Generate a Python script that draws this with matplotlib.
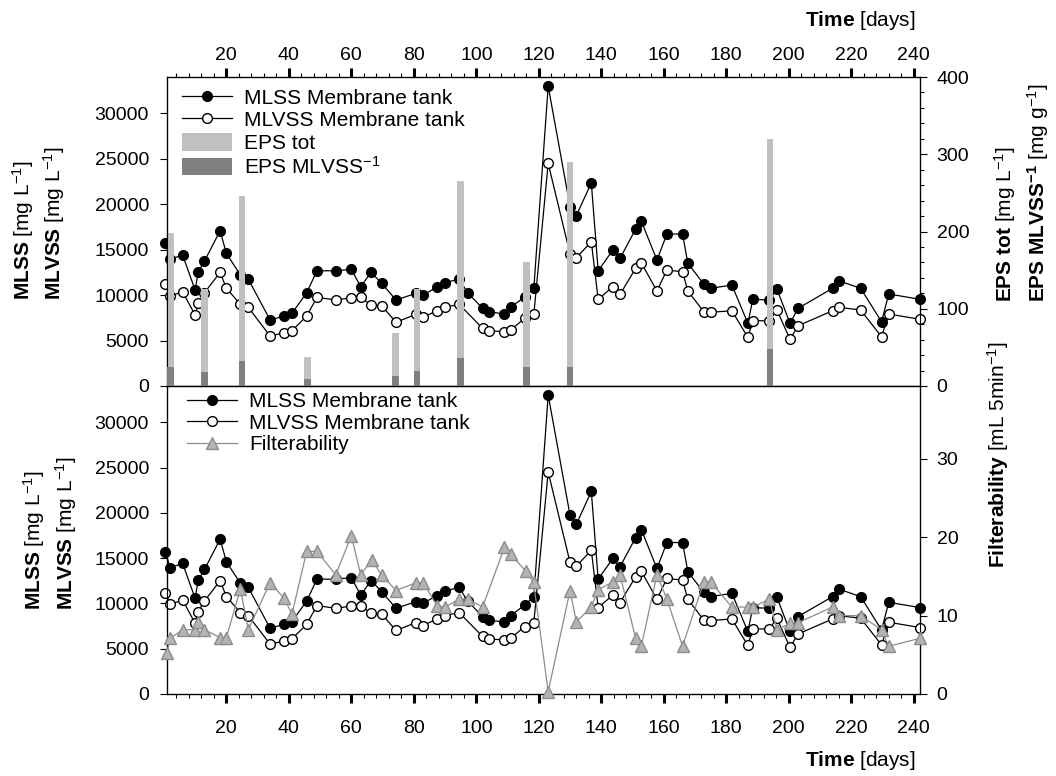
import matplotlib
matplotlib.use("Agg")
import matplotlib.pyplot as plt
from matplotlib.ticker import MultipleLocator
from matplotlib.patches import Patch
from matplotlib.lines import Line2D

plt.rcParams['font.family'] = 'Liberation Sans'
plt.rcParams['mathtext.fontset'] = 'custom'
plt.rcParams['mathtext.rm'] = 'Liberation Sans'
plt.rcParams['mathtext.it'] = 'Liberation Sans:italic'
plt.rcParams['mathtext.bf'] = 'Liberation Sans:bold'

# values
mlss_days = [0.5, 2, 6, 10, 11, 13, 18, 20, 24.5, 27, 34, 38.5, 41, 45.7, 49, 55, 60, 63,
             66.3, 69.7, 74.3, 80.7, 83, 87.3, 90, 94.5, 97.2, 102, 104, 109, 111, 115.5,
             118.4, 123, 130, 132, 136.8, 139, 143.7, 146, 151, 152.8, 157.8, 161, 166,
             167.7, 172.8, 175, 181.8, 186.9, 188.5, 193.8, 196.2, 200.4, 203, 214, 216,
             223, 229.7, 232, 242]
mlss = [15700, 13940, 14410, 10560, 12570, 13750, 17080, 14600, 12210, 11770, 7260, 7700,
        8000, 10260, 12680, 12680, 12840, 10920, 12510, 11300, 9460, 10200, 10010, 10860,
        11360, 11770, 10260, 8550, 8170, 7920, 8660, 9820, 10750, 33000, 19720, 18730,
        22360, 12680, 14960, 14050, 17270, 18150, 13860, 16720, 16720, 13500, 11220, 10750,
        11110, 6900, 9540, 9460, 10670, 6900, 8550, 10750, 11580, 10750, 7070, 10120, 9540]

mlvss_days = [0.5, 2, 6, 10, 11, 13, 18, 20, 24.5, 27, 34, 38.5, 41, 45.7, 49, 55, 60, 63,
              66.3, 69.7, 74.3, 80.7, 83, 87.3, 90, 94.5, 102, 104, 109, 111, 115.5,
              118.4, 123, 130, 132, 136.8, 139, 143.7, 146, 151, 152.8, 157.8, 161, 166,
              167.7, 172.8, 175, 181.8, 186.9, 188.5, 193.8, 196.2, 200.4, 203, 214, 216,
              223, 229.7, 232, 242]
mlvss = [11190, 9900, 10370, 7810, 9100, 10260, 12510, 10750, 8990, 8660, 5500, 5860, 6080,
         7700, 9760, 9460, 9710, 9760, 8910, 8830, 7010, 7890, 7560, 8280, 8660, 8990,
         6350, 6080, 5970, 6160, 7450, 7890, 24500, 14520, 14110, 15870, 9540, 10920, 10090,
         12950, 13560, 10450, 12760, 12570, 10450, 8170, 8110, 8280, 5360, 7180, 7180, 8360,
         5140, 6630, 8280, 8660, 8360, 5420, 7920, 7340]

eps_days = [2, 13, 25, 46, 74, 81, 95, 116, 130, 194]
eps_tot = [198, 125, 246, 38, 69, 125, 266, 161, 290, 320]
eps_spec = [24, 18, 32, 9, 13, 20, 36, 25, 24, 48]

filt_days = [1, 2, 6, 10, 11, 13, 18, 20, 24.5, 27, 34, 38.5, 41, 45.7, 49, 55, 60, 63,
             66.5, 69.7, 74.3, 80.7, 83, 87.5, 90, 94.5, 97.2, 102, 109, 111, 115.8, 118.3,
             123, 130, 132, 136.8, 139, 143.7, 146, 151, 152.8, 157.8, 161, 166, 172.8, 175,
             181.8, 186.9, 188.5, 193.8, 196.2, 200.4, 203, 214, 216, 223, 229.7, 232, 242]
filt = [5.2, 7.1, 8.2, 8.2, 9.2, 8.2, 7.2, 7.2, 13.4, 8.2, 14.2, 12.2, 10.2, 18.2, 18.2,
        15.2, 20.2, 15.2, 17.1, 15.2, 13.2, 14.2, 14.2, 11.2, 11.1, 12.1, 12.1, 11.1, 18.7,
        17.8, 15.7, 14.3, 0.3, 13.2, 9.2, 11.1, 13.3, 14.3, 15.2, 7.1, 6.1, 15.2, 12.1, 6.1,
        14.3, 14.3, 11.1, 11.1, 11.1, 12.1, 8.2, 9.0, 9.1, 11.1, 10.0, 10.0, 8.2, 6.1, 7.1]

W, H = 1056, 776
fig = plt.figure(figsize=(W / 100, H / 100), dpi=100)


def frac(x, y):
    return x / W, 1 - y / H


left, right = 167, 920
ax1 = fig.add_axes([left / W, 1 - 386 / H, (right - left) / W, 309 / H])
ax2 = fig.add_axes([left / W, 1 - 694 / H, (right - left) / W, 308 / H])
ax1r = ax1.twinx()
ax2r = ax2.twinx()

tick_fs = 14
for ax in (ax1, ax2):
    ax.set_xlim(1, 242)
    ax.set_ylim(0, 34000)
    ax.xaxis.set_major_locator(MultipleLocator(20))
    ax.xaxis.set_minor_locator(MultipleLocator(4))
    ax.yaxis.set_major_locator(MultipleLocator(5000))
    ax.tick_params(axis='y', which='major', direction='out', length=5, width=0.8,
                   pad=8, labelsize=tick_fs)
    ax.tick_params(axis='x', which='major', direction='out', length=6.5, width=2.2,
                   labelsize=tick_fs)
    ax.tick_params(axis='x', which='minor', direction='out', length=3, width=0.8)
    for s in ax.spines.values():
        s.set_linewidth(0.9)

ax1.xaxis.tick_top()
ax1.tick_params(axis='x', which='both', bottom=False, labelbottom=False)
ax1.tick_params(axis='x', which='major', pad=3)
ax2.tick_params(axis='x', which='both', top=False, labeltop=False)
ax2.tick_params(axis='x', which='major', pad=12)

# MLSS / MLVSS in both panels
for ax in (ax1, ax2):
    ax.plot(mlss_days, mlss, '-o', color='black', lw=0.9, ms=7, mfc='black', mec='black',
            clip_on=False, zorder=3)
    ax.plot(mlvss_days, mlvss, '-o', color='black', lw=0.9, ms=7, mfc='white', mec='black',
            clip_on=False, zorder=3)

# EPS bars
ax1r.bar(eps_days, eps_tot, width=2.2, color='#c0c0c0', zorder=2)
ax1r.bar(eps_days, eps_spec, width=2.2, color='#808080', zorder=3)
ax1r.set_ylim(0, 400)
ax1r.yaxis.set_major_locator(MultipleLocator(100))
ax1r.yaxis.set_minor_locator(MultipleLocator(20))
ax1r.tick_params(axis='y', which='major', direction='out', length=5, width=0.8, pad=7,
                 labelsize=tick_fs)
ax1r.tick_params(axis='y', which='minor', direction='out', length=3, width=0.8)

# Filterability
ax2r.plot(filt_days, filt, '-^', color='#8c8c8c', lw=0.9, ms=9, mfc='#b4b4b4',
          mec='#8c8c8c', clip_on=False, zorder=3)
ax2r.set_ylim(0, 39.3)
ax2r.yaxis.set_major_locator(MultipleLocator(10))
ax2r.tick_params(axis='y', which='major', direction='out', length=5, width=0.8, pad=7,
                 labelsize=tick_fs)

leg_fs = 15
h_mlss = Line2D([], [], color='black', lw=0.9, marker='o', ms=7, mfc='black', mec='black')
h_mlvss = Line2D([], [], color='black', lw=0.9, marker='o', ms=7, mfc='white', mec='black')
h_tot = Patch(facecolor='#c0c0c0', edgecolor='none')
h_spec = Patch(facecolor='#808080', edgecolor='none')
h_filt = Line2D([], [], color='#8c8c8c', lw=0.9, marker='^', ms=9, mfc='#b4b4b4',
                mec='#8c8c8c')

ax1r.legend([h_mlss, h_mlvss, h_tot, h_spec],
            ['MLSS Membrane tank', 'MLVSS Membrane tank', 'EPS tot', r'EPS MLVSS$^{-1}$'],
            loc='upper left', bbox_to_anchor=(0.02, 0.965), frameon=False, fontsize=leg_fs,
            handlelength=2.4, handleheight=0.9, labelspacing=0.14, handletextpad=0.55,
            borderpad=0, borderaxespad=0)
ax2r.legend([h_mlss, h_mlvss, h_filt],
            ['MLSS Membrane tank', 'MLVSS Membrane tank', 'Filterability'],
            loc='upper left', bbox_to_anchor=(0.027, 0.98), frameon=False, fontsize=leg_fs,
            handlelength=2.4, labelspacing=0.12, handletextpad=0.55,
            borderpad=0, borderaxespad=0)

lab_fs = 15
mg_l = r'[mg L$^{-1}$]'


def vlabel(x, y, s):
    fig.text(*frac(x, y), s, rotation=90, rotation_mode='anchor', ha='left',
             va='center', fontsize=lab_fs)


vlabel(23, 300, r'$\mathbf{MLSS}$ ' + mg_l)
vlabel(54, 300, r'$\mathbf{MLVSS}$ ' + mg_l)
vlabel(34, 610, r'$\mathbf{MLSS}$ ' + mg_l)
vlabel(66, 610, r'$\mathbf{MLVSS}$ ' + mg_l)
vlabel(1005, 302, r'$\mathbf{EPS\ tot}$ ' + mg_l)
vlabel(1038, 302, r'$\mathbf{EPS\ MLVSS^{-1}}$ [mg g$^{-1}$]')
vlabel(998, 568, r'$\mathbf{Filterability}$ [mL 5min$^{-1}$]')

fig.text(*frac(860, 20), r'$\mathbf{Time}$ [days]', ha='center', va='center', fontsize=lab_fs)
fig.text(*frac(860, 760), r'$\mathbf{Time}$ [days]', ha='center', va='center', fontsize=lab_fs)

fig.savefig('out.png', dpi=100)
